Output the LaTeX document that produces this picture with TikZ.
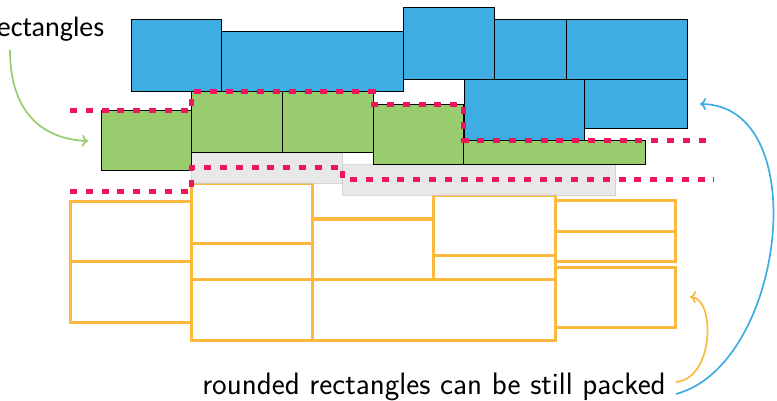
\documentclass[tikz,border=0pt]{standalone}
\usepackage{fontspec}
\newfontfamily\labelfont{Carlito}
\usetikzlibrary{arrows.meta}
\definecolor{boxblue}{HTML}{3DADE2}
\definecolor{boxgreen}{HTML}{99CC6E}
\definecolor{skyline}{HTML}{EE155A}
\definecolor{boxorange}{HTML}{FDB83F}
\definecolor{shadowgray}{HTML}{E6E6E6}
\tikzset{
  bluebox/.style={draw=black, line width=1pt, fill=boxblue},
  greenbox/.style={draw=black, line width=1pt, fill=boxgreen},
  graybox/.style={draw=black!20, line width=0.9pt, fill=shadowgray, fill opacity=0.9, draw opacity=0.8},
  roundbox/.style={draw=boxorange, line width=3pt, fill=white},
  skyln/.style={draw=skyline, line width=5pt, dash pattern=on 7pt off 8.8pt},
  callout/.style={line width=1.7pt, -{Computer Modern Rightarrow[length=6pt,width=12pt]}},
}
\begin{document}
\begin{tikzpicture}[x=1pt,y=-1pt]
\useasboundingbox (0,0) rectangle (777,401);
\clip (0,0) rectangle (777,401);

% rounded rectangles packed underneath
\draw[roundbox] (70.7,201.3) rectangle (191.3,261);
\draw[roundbox] (70.7,261) rectangle (191.3,322);
\draw[roundbox] (191.3,183.3) rectangle (312.7,243.3);
\draw[roundbox] (191.3,243.3) rectangle (312.7,279.5);
\draw[roundbox] (191.3,279.5) rectangle (312.7,340);
\draw[roundbox] (312.7,279.5) rectangle (555,340);
\draw[roundbox] (312.7,219) rectangle (433.3,279.5);
\draw[roundbox] (433.3,195.7) rectangle (555,255.7);
\draw[roundbox] (433.3,255.7) rectangle (555,279.5);
\draw[roundbox] (555.5,201) rectangle (675.7,231.3);
\draw[roundbox] (555.5,231.3) rectangle (675.7,261);
\draw[roundbox] (555.5,267.7) rectangle (675.7,327.7);

% grey placeholders
\draw[graybox] (191.7,152.7) rectangle (342.7,183.3);
\draw[graybox] (342.7,164.7) rectangle (615.7,195);

% green rectangles
\draw[greenbox] (101,110.3) rectangle (191.7,170.7);
\draw[greenbox] (191.7,92) rectangle (282.3,152.7);
\draw[greenbox] (282.3,92) rectangle (373,152.7);
\draw[greenbox] (373,104.3) rectangle (463.7,164.7);
\draw[greenbox] (463.7,140.3) rectangle (645.7,164.7);

% blue rectangles
\draw[bluebox] (131,19.5) rectangle (221.7,92);
\draw[bluebox] (221.7,32) rectangle (403.3,92);
\draw[bluebox] (403.3,7.5) rectangle (494,80);
\draw[bluebox] (494,19.7) rectangle (566.7,80);
\draw[bluebox] (566.7,19.7) rectangle (687.7,80);
\draw[bluebox] (464,80) rectangle (584.7,140.3);
\draw[bluebox] (584.7,80) rectangle (687.7,128.3);

% skylines
\draw[skyln] (70,110.3) -- (191.7,110.3) -- (191.7,92) -- (373,92) -- (373,104.3)
  -- (463.7,104.3) -- (463.7,140.3) -- (714,140.3);
\draw[skyln] (70,191.5) -- (191.7,191.5) -- (191.7,167.7) -- (342.7,167.7) -- (342.7,180)
  -- (714,180);

% labels
\node[anchor=base east, inner sep=0pt, font=\labelfont\fontsize{28}{33}\selectfont] (toplbl) at (104.5,37) {rectangles};
\node[anchor=base, inner sep=0pt, font=\sffamily\fontsize{31}{37}\selectfont] (botlbl) at (434,394) {rounded rectangles can be still packed};

\coordinate (gstart) at (10,50);
\coordinate (gend) at (88,141);
\coordinate (ostart) at (676,382);
\coordinate (oend) at (690,297);
\coordinate (bstart) at (676,394);
\coordinate (bend) at (700,104);

\draw[callout, boxgreen] (gstart) .. controls (10,110) and (40,139) .. (gend);
\draw[callout, boxorange] (ostart) .. controls (715,378) and (715,298) .. (oend);
\draw[callout, boxblue] (bstart) .. controls (785,365) and (815,105) .. (bend);
\end{tikzpicture}
\end{document}
